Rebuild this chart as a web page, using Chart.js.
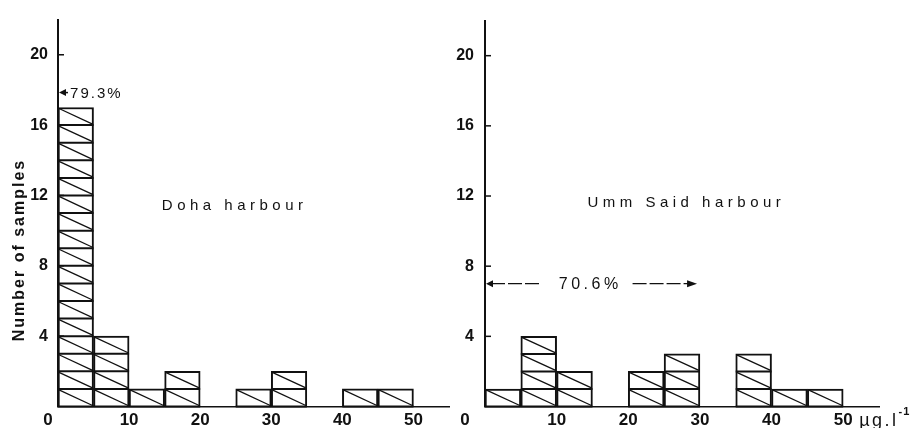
<!DOCTYPE html>
<html>
<head>
<meta charset="utf-8">
<script src="https://cdn.jsdelivr.net/npm/chart.js@4.4.1/dist/chart.umd.min.js"></script>
<style>
  html, body { margin: 0; padding: 0; background: #fff; }
  #wrap { position: relative; width: 920px; height: 428px; overflow: hidden; }
  .box { position: absolute; top: 0; height: 428px; }
  #boxDoha { left: 0; width: 460px; }
  #boxUmm { left: 440px; width: 480px; }
</style>
</head>
<body>
<div id="wrap">
  <div class="box" id="boxDoha"><canvas id="chartDoha"></canvas></div>
  <div class="box" id="boxUmm"><canvas id="chartUmm"></canvas></div>
</div>
<script>
// classi di 5 µg/l, centro di ogni classe
const binCentres = [2.5, 7.5, 12.5, 17.5, 22.5, 27.5, 32.5, 37.5, 42.5, 47.5];
const dohaCounts = [17, 4, 1, 2, 0, 1, 2, 0, 1, 1];
const ummSaidCounts = [1, 4, 2, 0, 2, 3, 0, 3, 1, 1];
const xTickLabels = [0, 10, 20, 30, 40, 50];
const yTickLabels = [4, 8, 12, 16, 20];
const dohaTitle = 'Doha harbour';
const ummSaidTitle = 'Umm Said harbour';
const dohaNote = '79.3%';
const ummSaidNote = '70.6%';
const yAxisTitle = 'Number of samples';
const unitLabel = 'µg.l';
const unitExp = '-1';

const INK = '#111';
const FONT = "'Liberation Sans', Arial, sans-serif";

function freccia(ctx, x, y, dir, len, half) {
  ctx.beginPath();
  ctx.moveTo(x, y);
  ctx.lineTo(x - dir * len, y - half);
  ctx.lineTo(x - dir * len, y + half);
  ctx.closePath();
  ctx.fill();
}

function testo(ctx, txt, x, y, font, spacing) {
  ctx.font = font;
  ctx.letterSpacing = spacing + 'px';
  ctx.fillText(txt, x, y);
  ctx.letterSpacing = '0px';
}

const pluginIstogramma = {
  id: 'istogramma',
  afterDatasetsDraw(chart, args, opts) {
    const ctx = chart.ctx;
    const xs = chart.scales.x, ys = chart.scales.y;
    const meta = chart.getDatasetMeta(0);
    const valori = chart.data.datasets[0].data;

    ctx.save();
    ctx.strokeStyle = INK;
    ctx.fillStyle = INK;
    ctx.lineCap = 'butt';

    // celle unitarie con diagonale
    meta.data.forEach((bar, i) => {
      const n = valori[i].y;
      if (!n) return;
      const { x, width } = bar.getProps(['x', 'width'], true);
      const sx = x - width / 2, dx = x + width / 2;
      for (let k = 1; k <= n; k++) {
        const yTop = ys.getPixelForValue(k);
        const yBot = ys.getPixelForValue(k - 1);
        ctx.lineWidth = 1.3;
        ctx.beginPath(); ctx.moveTo(sx + 1, yTop + 1); ctx.lineTo(dx - 1, yBot - 1); ctx.stroke();
        ctx.lineWidth = 2;
        ctx.beginPath(); ctx.moveTo(sx, yBot); ctx.lineTo(dx, yBot); ctx.stroke();
      }
    });

    // tacche interne sull'asse y
    ctx.lineWidth = 1.5;
    yTickLabels.forEach(v => {
      const py = ys.getPixelForValue(v);
      ctx.beginPath(); ctx.moveTo(xs.left, py); ctx.lineTo(xs.left + 6, py); ctx.stroke();
    });

    // "0" spostato a sinistra dell'origine
    ctx.textBaseline = 'middle';
    ctx.textAlign = 'center';
    testo(ctx, String(xTickLabels[0]), xs.left + opts.zeroShift, 420, 'bold 17px ' + FONT, 0);

    // titolo del porto
    ctx.textAlign = 'left';
    testo(ctx, opts.title, xs.getPixelForValue(opts.titleAt[0]), ys.getPixelForValue(opts.titleAt[1]),
      '15px ' + FONT, 4.5);

    // annotazione percentuale
    const a = opts.note;
    const ay = ys.getPixelForValue(a.y);
    const x0 = xs.getPixelForValue(0);
    freccia(ctx, x0 + 1, ay, -1, 7, 3.5);
    if (a.to) {
      ctx.lineWidth = 1.2;
      ctx.setLineDash([14, 3]);
      ctx.beginPath(); ctx.moveTo(x0 + 6, ay); ctx.lineTo(xs.getPixelForValue(a.lineEnd), ay); ctx.stroke();
      ctx.beginPath(); ctx.moveTo(xs.getPixelForValue(a.lineRestart), ay); ctx.lineTo(xs.getPixelForValue(a.to) - 8, ay); ctx.stroke();
      ctx.setLineDash([]);
      freccia(ctx, xs.getPixelForValue(a.to), ay, 1, 10, 3.5);
    } else {
      ctx.lineWidth = 1.5;
      ctx.beginPath(); ctx.moveTo(x0 + 6, ay); ctx.lineTo(x0 + 10, ay); ctx.stroke();
    }
    ctx.textBaseline = 'middle';
    testo(ctx, a.text, xs.getPixelForValue(a.textAt), ay + 1, a.font, a.spacing);

    // titolo asse y
    if (opts.yTitle) {
      ctx.save();
      ctx.translate(20, ys.getPixelForValue(8.9));
      ctx.rotate(-Math.PI / 2);
      ctx.textAlign = 'center';
      testo(ctx, yAxisTitle, 0, 0, 'bold 16px ' + FONT, 2);
      ctx.restore();
    }

    // unità di misura
    if (opts.unit) {
      const ux = xs.getPixelForValue(50) + 16;
      ctx.textAlign = 'left';
      testo(ctx, unitLabel, ux, 421, '18px ' + FONT, 2.5);
      ctx.font = '18px ' + FONT;
      ctx.letterSpacing = '2.5px';
      const w = ctx.measureText(unitLabel).width;
      ctx.letterSpacing = '0px';
      testo(ctx, unitExp, ux + w, 412, 'bold 11px ' + FONT, 1);
    }
    ctx.restore();
  }
};

function creaGrafico(id, counts, cfg) {
  return new Chart(document.getElementById(id), {
    type: 'bar',
    data: {
      datasets: [{
        data: binCentres.map((x, i) => ({ x: x, y: counts[i] })),
        backgroundColor: '#fff',
        borderColor: INK,
        borderWidth: 2,
        barPercentage: 1,
        categoryPercentage: 1
      }]
    },
    options: {
      responsive: true,
      maintainAspectRatio: false,
      animation: false,
      layout: { padding: { top: 12, right: cfg.padRight, left: 0, bottom: 0 } },
      plugins: {
        legend: { display: false },
        tooltip: { enabled: false },
        istogramma: cfg
      },
      scales: {
        x: {
          type: 'linear',
          min: 0,
          max: 55,
          offset: false,
          grid: { display: false, drawTicks: false, offset: false },
          border: { display: true, color: INK, width: 1.5 },
          afterBuildTicks: axis => { axis.ticks = xTickLabels.map(v => ({ value: v })); },
          afterFit: scale => { scale.height = 21.5; },
          ticks: {
            padding: 4,
            autoSkip: false,
            maxRotation: 0,
            color: INK,
            font: { family: FONT, size: 17, weight: 'bold' },
            callback: v => (v === 0 ? '' : v)
          }
        },
        y: {
          min: 0,
          max: 22,
          grid: { display: false, drawTicks: false },
          border: { display: true, color: INK, width: 2 },
          afterBuildTicks: axis => { axis.ticks = yTickLabels.map(v => ({ value: v })); },
          afterFit: scale => { scale.width = cfg.yWidth; },
          ticks: {
            padding: cfg.yTickPad,
            color: INK,
            font: { family: FONT, size: 16, weight: 'bold' }
          }
        }
      }
    },
    plugins: [pluginIstogramma]
  });
}

creaGrafico('chartDoha', dohaCounts, {
  yWidth: 58, padRight: 11, yTickPad: 10, zeroShift: -10,
  title: dohaTitle, titleAt: [14.6, 11.4], yTitle: true, unit: false,
  note: { y: 17.85, text: dohaNote, textAt: 1.7, font: '15px ' + FONT, spacing: 2 }
});

creaGrafico('chartUmm', ummSaidCounts, {
  yWidth: 45, padRight: 41, yTickPad: 11, zeroShift: -20,
  title: ummSaidTitle, titleAt: [14.3, 11.6], yTitle: false, unit: true,
  note: { y: 7, text: ummSaidNote, textAt: 10.3, lineEnd: 7.7, lineRestart: 20.6, to: 29.6,
          font: '16px ' + FONT, spacing: 3.5 }
});
</script>
</body>
</html>
